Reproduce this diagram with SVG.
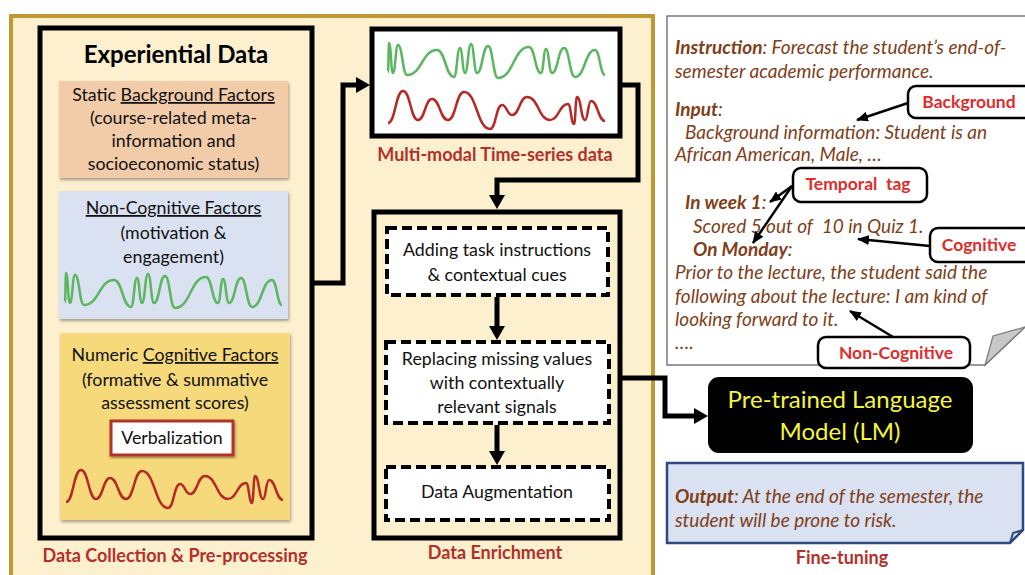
<svg xmlns="http://www.w3.org/2000/svg" width="1025" height="575" viewBox="0 0 1025 575">
<style>
text{font-family:Lato,"Liberation Sans",sans-serif;}
.t{font-size:17.8px;fill:#111;text-anchor:middle;}
.lbl{font-size:18px;font-weight:bold;fill:#b3302a;text-anchor:middle;}
.box{stroke:#000;stroke-width:5;}
.dash{fill:#fff;stroke:#000;stroke-width:4;stroke-dasharray:10 5;}
.conn{fill:none;stroke:#000;stroke-width:5;stroke-linejoin:miter;}
.thin{fill:none;stroke:#000;stroke-width:2.5;}
.pt{font-size:19px;font-style:italic;fill:#7f4019;}
.co{fill:#fff;stroke:#000;stroke-width:2.5;}
.cot{font-size:17.5px;font-weight:bold;fill:#e02b2b;text-anchor:middle;}
.gw{fill:none;stroke:#5cb660;stroke-width:2.5;}
.rw{fill:none;stroke:#b52a25;stroke-width:2.5;}
</style>
<defs>
<marker id="ah" markerUnits="userSpaceOnUse" markerWidth="16" markerHeight="16" refX="1" refY="8" orient="auto"><path d="M0,0 L14,8 L0,16 z" fill="#000"/></marker>
<marker id="ahs" markerUnits="userSpaceOnUse" markerWidth="12" markerHeight="10" refX="11" refY="5" orient="auto"><path d="M0,0 L12,5 L0,10 z" fill="#000"/></marker>
<filter id="sh" x="-5%" y="-5%" width="110%" height="115%"><feDropShadow dx="1" dy="2" stdDeviation="1.5" flood-opacity="0.35"/></filter>
<path id="green" d="M0,29 C0.5,29 0.5,0 1,0 C3,0 3,30 5,30 C7.5,30 7.5,2 10,2 C14.5,2 14.5,32 19,32 C34,32 34,7 49,7 C57.5,7 57.5,34 66,34 C69,34 69,5 72,5 C74.5,5 74.5,30 77,30 C80,30 80,1 83,1 C86,1 86,30 89,30 C94.5,30 94.5,3 100,3 C105,3 105,35 110,35 C125.5,35 125.5,4 141,4 C147,4 147,30 153,30 C155.5,30 155.5,6 158,6 C161,6 161,30 164,30 C170,30 170,5 176,5 C181.5,5 181.5,34 187,34 C197,34 197,7 207,7 C212,7 212,32 217,32"/>
<path id="red" d="M0,32 C7.5,32 7.5,0 15,0 C22.5,0 22.5,29 30,29 C37,29 37,8 44,8 C52,8 52,29 60,29 C68,29 68,1 76,1 C89,1 89,38 102,38 C108,38 108,14 114,14 C119,14 119,24 124,24 C131.5,24 131.5,6 139,6 C150.5,6 150.5,29 162,29 C171,29 171,13 180,13 C183,13 183,33 186,33 C187.5,33 187.5,6 189,6 C193,6 193,29 197,29 C200,29 200,10 203,10 C210,10 210,30 217,30"/>
</defs>
<rect width="1025" height="575" fill="#fff"/>
<rect id="outer" x="11" y="16" width="642" height="600" fill="#fcf0cf" stroke="#bf9a33" stroke-width="4"/>

<g id="data-collection">
<rect x="40" y="28" width="272" height="510" fill="#fcf0cf" class="box"/>
<text x="176" y="63" style="font-size:24px;font-weight:bold;text-anchor:middle;fill:#000">Experiential Data</text>
<text x="175" y="562" class="lbl">Data Collection &amp; Pre-processing</text>
</g>
<g id="static-background">
<rect x="59" y="81" width="229" height="97" fill="#f2cba9" filter="url(#sh)"/>
<text x="173.5" y="101" class="t">Static <tspan text-decoration="underline">Background Factors</tspan></text>
<text x="173.5" y="124" class="t">(course-related meta-</text>
<text x="173.5" y="147" class="t">information and</text>
<text x="173.5" y="170" class="t">socioeconomic status)</text>
</g>
<g id="non-cognitive">
<rect x="59" y="191" width="229" height="128" fill="#dae1f1" filter="url(#sh)"/>
<text x="173.5" y="214" class="t"><tspan text-decoration="underline">Non-Cognitive Factors</tspan></text>
<text x="173.5" y="239" class="t">(motivation &amp;</text>
<text x="173.5" y="263" class="t">engagement)</text>
<use href="#green" transform="translate(65,273)" class="gw"/>
</g>
<g id="cognitive">
<rect x="60" y="333" width="230" height="187" fill="#f5d97a" filter="url(#sh)"/>
<text x="175" y="361" class="t">Numeric <tspan text-decoration="underline">Cognitive Factors</tspan></text>
<text x="175" y="386" class="t">(formative &amp; summative</text>
<text x="175" y="409" class="t">assessment scores)</text>
<use href="#red" transform="translate(66,470)" class="rw"/>
</g>
<g id="verbalization">
<rect x="111" y="421" width="122" height="34" fill="#fff" stroke="#b3302a" stroke-width="3" filter="url(#sh)"/>
<text x="172" y="444" class="t">Verbalization</text>
</g>

<g id="multimodal">
<rect x="372" y="29" width="248" height="107" fill="#fff" class="box"/>
<use href="#green" transform="translate(388,43)" class="gw"/>
<use href="#red" transform="translate(388,91)" class="rw"/>
<text x="495" y="161" class="lbl">Multi-modal Time-series data</text>
</g>

<g id="enrichment">
<rect x="374" y="212" width="246" height="326" fill="#fcf0cf" class="box"/>
<text x="495" y="559" class="lbl">Data Enrichment</text>
</g>
<g id="task-instructions">
<rect x="387" y="228" width="221" height="67" class="dash"/>
<text x="497" y="256" class="t">Adding task instructions</text>
<text x="497" y="281" class="t">&amp; contextual cues</text>
</g>
<g id="missing-values">
<rect x="386" y="342" width="223" height="81" class="dash"/>
<text x="497" y="365" class="t">Replacing missing values</text>
<text x="497" y="389" class="t">with contextually</text>
<text x="497" y="413" class="t">relevant signals</text>
</g>
<g id="augmentation">
<rect x="386" y="467" width="223" height="53" class="dash"/>
<text x="497" y="498" class="t">Data Augmentation</text>
</g>

<g id="prompt-panel">
<path d="M1030,16 H667 V365 H985 L1025,327" fill="#fff" stroke="#7a7a7a" stroke-width="1.5"/>
<path d="M985,365 L993,336 L1025,327 Z" fill="#c8c8c8" stroke="#7a7a7a" stroke-width="1.2"/>
<text x="675" y="54" class="pt"><tspan font-weight="bold">Instruction</tspan>: Forecast the student’s end-of-</text>
<text x="675" y="78" class="pt">semester academic performance.</text>
<text x="675" y="116" class="pt" font-weight="bold">Input<tspan font-weight="normal">:</tspan></text>
<text x="685" y="139" class="pt">Background information: Student is an</text>
<text x="675" y="161" class="pt">African American, Male, …</text>
<text x="685" y="209" class="pt"><tspan font-weight="bold">In week 1</tspan>:</text>
<text x="693" y="233" class="pt" xml:space="preserve">Scored 5 out of  10 in Quiz 1.</text>
<text x="693" y="256" class="pt"><tspan font-weight="bold">On Monday</tspan>:</text>
<text x="675" y="279" class="pt">Prior to the lecture, the student said the</text>
<text x="675" y="303" class="pt">following about the lecture: I am kind of</text>
<text x="675" y="326" class="pt">looking forward to it.</text>
<text x="675" y="349" class="pt">….</text>
</g>
<g id="callout-background">
<rect x="908" y="86" width="124" height="32" rx="8" class="co"/>
<text x="969" y="108" class="cot">Background</text>
</g>
<g id="callout-temporal">
<rect x="793" y="168" width="134" height="34" rx="8" class="co"/>
<text x="858" y="190" class="cot" xml:space="preserve">Temporal  tag</text>
</g>
<g id="callout-cognitive">
<rect x="930" y="228" width="102" height="34" rx="8" class="co"/>
<text x="979" y="251" class="cot">Cognitive</text>
</g>
<g id="callout-noncognitive">
<rect x="818" y="337" width="152" height="31" rx="8" class="co"/>
<text x="896" y="359" class="cot">Non-Cognitive</text>
</g>

<g id="lm">
<rect x="708" y="377" width="265" height="76" rx="11" fill="#000"/>
<text x="840" y="408" style="font-size:24px;fill:#f6f43e;text-anchor:middle">Pre-trained Language</text>
<text x="840" y="440" style="font-size:24px;fill:#f6f43e;text-anchor:middle">Model (LM)</text>
</g>
<g id="output">
<path d="M667,463 H1023 V530 L1010,543 H667 Z" fill="#dae1f1" stroke="#2e4a7e" stroke-width="2.5"/>
<path d="M1010,543 L1013,533 L1023,530" fill="none" stroke="#2e4a7e" stroke-width="2"/>
<text x="675" y="503" class="pt"><tspan font-weight="bold">Output</tspan>: At the end of the semester, the</text>
<text x="675" y="527" class="pt">student will be prone to risk.</text>
<text x="842" y="564" class="lbl">Fine-tuning</text>
</g>

<g id="connectors">
<path d="M312,283 H343 V85 H357" class="conn" marker-end="url(#ah)"/>
<path d="M620,85 H638 V180 H497 V196" class="conn" marker-end="url(#ah)"/>
<path d="M497,297 V327" class="conn" marker-end="url(#ah)"/>
<path d="M497,425 V452" class="conn" marker-end="url(#ah)"/>
<path d="M620,378 H665 V416 H695" class="conn" marker-end="url(#ah)"/>
<path d="M908,103 L857,120" class="thin" marker-end="url(#ahs)"/>
<path d="M792,186 L770,202" class="thin" marker-end="url(#ahs)"/>
<path d="M792,186 L753,243" class="thin" marker-end="url(#ahs)"/>
<path d="M930,246 L858,239" class="thin" marker-end="url(#ahs)"/>
<path d="M893,337 L850,311" class="thin" marker-end="url(#ahs)"/>
</g>
</svg>
